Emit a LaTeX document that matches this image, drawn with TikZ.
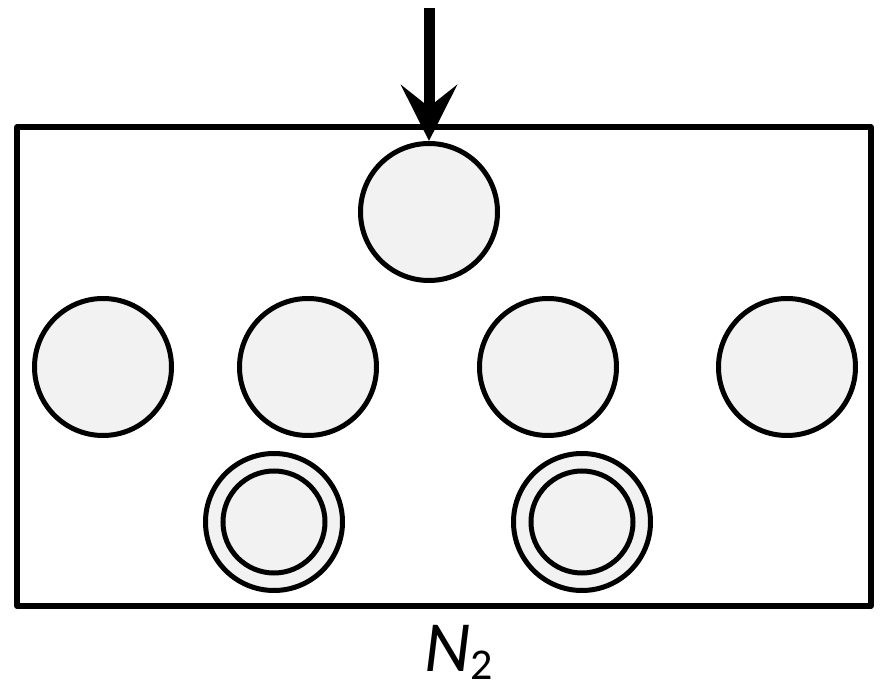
\documentclass[tikz,border=0pt]{standalone}
\usepackage{fontspec}
\setmainfont{Carlito}
\usetikzlibrary{arrows.meta}
\begin{document}
\begin{tikzpicture}[x=0.5pt,y=-0.5pt,
  ball/.style={circle,draw=black,fill=ballfill,line width=2.5pt,minimum size=68.5pt,inner sep=0pt},
  core/.style={circle,draw=black,fill=ballfill,line width=2.5pt,minimum size=51pt,inner sep=0pt}]
  \definecolor{ballfill}{RGB}{242,242,242}
  \useasboundingbox (0,0) rectangle (880,695);
  \draw[line width=2.6pt,line join=round] (17,127) rectangle (871,606);
  \node[ball] (top) at (429,212) {};
  \node[ball] (r1) at (103,367) {};
  \node[ball] (r2) at (308,367) {};
  \node[ball] (r3) at (548,367) {};
  \node[ball] (r4) at (787,367) {};
  \node[ball] (d1) at (274,522) {};
  \node[core] (d1in) at (d1) {};
  \node[ball] (d2) at (582,522) {};
  \node[core] (d2in) at (d2) {};
  \coordinate (in) at (429,8);
  \draw[line width=5.5pt,-{Stealth[length=28pt,width=28pt,inset=11pt]}] (in) -- (top.north);
  \node[anchor=base west,inner sep=0pt,font=\fontsize{36}{42}\selectfont] (lbl) at (424,672)
    {\textit{N}\raisebox{-4pt}{\fontsize{22}{26}\selectfont 2}};
\end{tikzpicture}
\end{document}
